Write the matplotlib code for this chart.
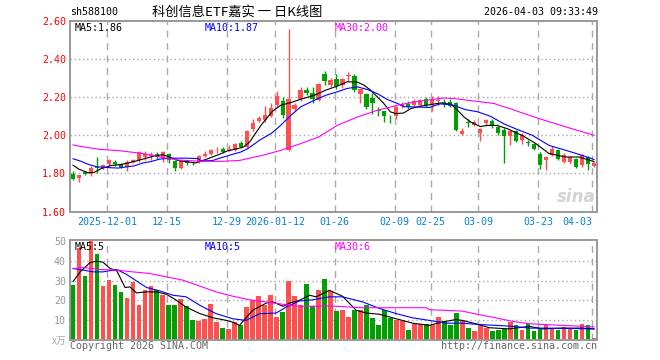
import matplotlib
matplotlib.use('Agg')
import matplotlib.pyplot as plt
import numpy as np

# ---- data (bar index 0 = 2025-11-21) ----
opens = [1.795,1.775,1.806,1.798,1.834,1.830,1.848,1.861,1.850,1.834,
         1.860,1.868,1.888,1.893,1.900,1.884,1.900,1.864,1.830,1.866,
         1.862,1.862,1.890,1.900,1.915,1.930,1.925,1.922,1.960,1.940,
         2.035,2.075,2.082,2.102,2.160,2.178,1.922,2.140,2.190,2.236,
         2.222,2.185,2.320,2.262,2.297,2.262,2.310,2.310,2.216,2.215,
         2.197,2.133,2.125,2.085,2.100,2.155,2.163,2.160,2.160,2.188,
         2.158,2.180,2.172,2.176,2.167,2.005,2.066,2.055,2.012,2.062,
         2.074,2.044,2.030,1.997,2.020,1.974,1.962,1.953,1.904,1.868,
         1.895,1.925,1.860,1.860,1.874,1.842,1.886,1.838]
highs = [1.812,1.792,1.815,1.838,1.886,1.850,1.876,1.868,1.855,1.868,
         1.878,1.920,1.915,1.910,1.912,1.920,1.905,1.870,1.870,1.872,
         1.866,1.897,1.920,1.928,1.940,1.940,1.950,1.960,1.968,2.030,
         2.088,2.100,2.155,2.172,2.230,2.200,2.560,2.172,2.255,2.255,
         2.255,2.275,2.337,2.300,2.320,2.300,2.330,2.320,2.245,2.220,
         2.220,2.150,2.130,2.105,2.155,2.175,2.180,2.190,2.190,2.200,
         2.205,2.205,2.190,2.190,2.175,2.040,2.088,2.080,2.040,2.088,
         2.088,2.050,2.040,2.030,2.030,2.012,1.977,1.960,1.910,1.890,
         1.942,1.930,1.907,1.890,1.880,1.900,1.892,1.860]
lows = [1.763,1.755,1.790,1.786,1.800,1.822,1.840,1.840,1.830,1.810,
        1.856,1.862,1.870,1.868,1.878,1.860,1.855,1.815,1.822,1.845,
        1.845,1.855,1.885,1.895,1.905,1.905,1.915,1.915,1.935,1.935,
        2.020,2.068,2.070,2.095,2.150,2.090,1.915,2.127,2.180,2.210,
        2.167,2.180,2.263,2.255,2.245,2.250,2.285,2.228,2.167,2.140,
        2.114,2.100,2.070,2.062,2.083,2.145,2.140,2.155,2.150,2.150,
        2.128,2.158,2.150,2.148,2.020,2.000,2.043,2.047,1.970,2.048,
        2.040,2.000,1.854,1.947,1.965,1.956,1.942,1.925,1.825,1.816,
        1.890,1.870,1.855,1.850,1.830,1.835,1.820,1.832]
closes = [1.772,1.789,1.797,1.828,1.826,1.846,1.870,1.848,1.836,1.862,
          1.872,1.910,1.900,1.896,1.887,1.912,1.869,1.828,1.867,1.855,
          1.852,1.893,1.900,1.924,1.920,1.914,1.930,1.955,1.940,2.025,
          2.065,2.090,2.108,2.143,2.205,2.106,2.188,2.160,2.236,2.220,
          2.190,2.270,2.283,2.289,2.258,2.295,2.314,2.238,2.242,2.150,
          2.170,2.130,2.103,2.083,2.149,2.165,2.148,2.180,2.183,2.160,
          2.184,2.183,2.170,2.153,2.026,2.022,2.064,2.071,2.031,2.079,
          2.048,2.013,1.996,2.022,1.970,2.002,1.960,1.930,1.843,1.886,
          1.930,1.878,1.895,1.885,1.834,1.895,1.848,1.855]
volume = [27.7,46.6,32.2,52.0,43.4,27.2,30.2,27.7,24.1,21.2,
          29.2,17.5,25.1,27.2,25.5,22.6,17.5,17.5,20.9,17.0,
          9.9,9.4,10.4,18.0,8.9,6.3,5.8,8.9,7.4,16.5,
          20.1,22.1,17.5,22.6,11.4,14.0,29.7,22.1,17.5,28.2,
          17.0,25.1,30.7,24.8,14.5,15.0,11.6,15.0,15.0,17.5,
          11.1,7.4,15.0,11.1,9.9,9.4,5.3,7.9,8.2,7.9,
          7.4,11.6,9.6,7.4,13.5,9.9,6.0,4.3,8.2,6.2,
          4.3,4.8,5.6,9.1,7.4,5.3,7.9,4.3,6.2,7.4,
          6.2,5.3,6.4,5.6,4.8,7.9,7.4,0.8]

# moving averages: (bar index, value)
ma5 = [(0,1.843),(1,1.822),(2.5,1.804),(3.5,1.805),(4.7,1.825),(6.4,1.842),(8,1.846),
       (10.3,1.863),(12,1.878),(13.6,1.892),(15,1.898),(15.8,1.890),(17.5,1.868),
       (19.2,1.860),(20.5,1.855),(22.5,1.877),(24.2,1.897),(25.8,1.918),(27.5,1.930),
       (28.5,1.939),(29.5,1.965),(31.4,2.053),(33.3,2.126),(34.7,2.158),(36.4,2.172),
       (38,2.189),(40.3,2.21),(42.2,2.237),(44.2,2.259),(45.8,2.281),(47.5,2.279),
       (48.6,2.263),(49.7,2.237),(50.8,2.202),(51.9,2.167),(53,2.123),(53.9,2.114),
       (55.2,2.117),(56.4,2.14),(58,2.153),(59.5,2.160),(61.4,2.17),(63.1,2.163),
       (64.2,2.132),(65.3,2.096),(66.4,2.07),(68,2.046),(69.2,2.052),(70.8,2.052),
       (72.5,2.035),(74.5,2.006),(75,2.0),(77.3,1.956),(79.5,1.904),(82.3,1.886),
       (84.5,1.886),(87,1.862)]
ma10 = [(0,1.877),(1.4,1.863),(2.3,1.850),(3.9,1.835),(6.2,1.830),(7.5,1.828),(8.9,1.834),
        (10.3,1.840),(11.7,1.855),(13,1.862),(14.5,1.875),(16.2,1.880),(18.9,1.880),
        (20.8,1.878),(21.4,1.865),(23.4,1.868),(24.2,1.877),(25.6,1.890),(26.4,1.898),
        (28,1.912),(29.2,1.930),(31.2,1.975),(33.3,2.014),(34.7,2.053),(36.4,2.105),
        (38,2.149),(40.3,2.184),(42.2,2.21),(44.2,2.229),(45.8,2.246),(47.5,2.254),
        (49.2,2.24),(50.8,2.219),(52.5,2.188),(54.2,2.167),(55.3,2.15),(57,2.149),
        (59.5,2.146),(61.3,2.165),(63.3,2.160),(65.5,2.135),(67.5,2.124),(69.7,2.100),
        (71.9,2.061),(74,2.033),(76.7,2.0),(79.5,1.947),(82.3,1.921),(85,1.895),(87,1.873)]
ma30 = [(0,1.950),(1.2,1.942),(4.5,1.926),(7.8,1.919),(11.2,1.906),(13.4,1.895),(14.5,1.886),
        (16.2,1.877),(17.8,1.870),(21.2,1.864),(24.5,1.863),(27.8,1.868),(29.5,1.880),
        (31.4,1.893),(34.7,1.921),(38,1.956),(41,1.991),(44.2,2.053),(47.5,2.096),
        (50.8,2.131),(54.2,2.158),(57,2.175),(59.5,2.186),(62,2.196),(63.6,2.193),
        (67.5,2.178),(70.3,2.167),(72.3,2.146),(73,2.140),(74.5,2.123),(77.8,2.088),
        (82.3,2.044),(87,2.0)]
vma5 = [(0,29.5),(1.2,34.4),(2.8,39),(3.9,39.8),(5,39.3),(6.2,36.1),(7.3,35),(8.7,26.5),
        (9.5,26.8),(10.6,23.8),(12.3,24.3),(13.9,24.3),(15.6,23.1),(17.3,20),(18.9,16.6),
        (21.2,13.3),(23.4,11.2),(25.6,9.9),(26.7,9.0),(27.8,7.4),(30,15),(32.3,18.7),
        (33.4,19.2),(35.1,17),(36.2,18.7),(37.8,20),(39.5,22.6),(40.6,21.8),(42.8,25.1),
        (45,22.1),(46.2,18.4),(47.3,15),(49,13.6),(51.2,13),(54,10.7),(56.7,8.5),
        (59.5,7.4),(61.7,9.1),(63.9,10.3),(65,9.9),(67.3,8.2),(69.5,6.2),(72.8,5.6),
        (76.2,6.9),(78.4,5.6),(81.7,6.0),(85,6.0),(87,5.6)]
vma10 = [(0,36.1),(1.7,35.3),(3.4,34.4),(5,34.4),(7.3,35.6),(8.9,33.2),(10.6,29.8),
         (12.3,26.5),(14.5,24.8),(16.7,22.6),(18.9,21.8),(21.2,17.5),(23.9,13.3),
         (26.7,10.7),(28.9,9.9),(31.2,13.3),(33.9,13.6),(35.6,16.6),(37.8,19.7),(40,20.3),
         (42.8,21.8),(45,21.8),(48.4,19.2),(51.2,15.9),(54,13.3),(56.7,11.2),(59.5,9.9),
         (62.3,8.5),(65,8.5),(67.8,7.8),(70.6,7.4),(73.4,6.9),(76.2,6.0),(79,6.0),(87,5.6)]
vma30 = [(0,36.1),(1.7,36.6),(4.5,35.6),(7.3,35.3),(10,34.4),(12.8,33.6),(15.6,31.9),
         (18.4,30.2),(21.2,27.2),(23.9,24.3),(26.7,22.1),(29.5,20.3),(32.3,19.2),(35.1,18),
         (37.8,17),(42.8,17.2),(48.4,16.3),(54,16.3),(59,16.3),(59.5,15.3),(65,14.6),
         (67.8,12.8),(70.6,11.2),(73.4,9.4),(76.2,8.2),(81.7,7.4),(87,6.6)]

tick_idx = [6,16,26,34,44,54,60,68,78,87]
tick_lab = ['2025-12-01','12-15','12-29','2026-01-12','01-26','02-09','02-25','03-09','03-23','04-03']
price_ticks = [1.60,1.80,2.00,2.20,2.40,2.60]
vol_ticks = [10,20,30,40,50]

RED = '#ff5050'
GREEN = '#00a000'
GRID = '#aaaaaa'
MONO = 'DejaVu Sans Mono'

W, H = 660, 360
fig = plt.figure(figsize=(W/100, H/100), dpi=100)

def box(l, t, r, b):
    return [l/W, 1-b/H, (r-l)/W, (b-t)/H]

ax = fig.add_axes(box(70, 21, 597, 211.5))
axv = fig.add_axes(box(70, 240, 597, 340))

n = len(closes)
x = np.arange(n)
o = np.array(opens); c = np.array(closes)
up = c >= o
cols = [RED if u else GREEN for u in up]

gx = [t - 0.3 for t in tick_idx]

for a in (ax, axv):
    a.set_xlim(-0.5, n - 0.5)
    for g in gx:
        a.axvline(g, color=GRID, lw=1, ls=(0, (5, 4)), zorder=0)
    for s in a.spines.values():
        s.set_color('#999999')
        s.set_linewidth(1.4)
    a.tick_params(length=0)

# candles
ax.vlines(x, lows, highs, colors=cols, lw=1, zorder=2)
bot = np.minimum(o, c)
hgt = np.maximum(np.abs(c - o), 0.004)
ax.bar(x, hgt, bottom=bot, width=0.7, color=cols, zorder=3, linewidth=0)

for data, col in ((ma5, 'black'), (ma10, '#0000ff'), (ma30, '#ff00ff')):
    ax.plot([p[0] for p in data], [p[1] for p in data], color=col, lw=0.8, zorder=4)

ax.set_ylim(1.60, 2.60)
for yv in price_ticks[1:-1]:
    ax.axhline(yv, color=GRID, lw=1, ls=(0, (1, 2)), zorder=0)
ax.set_yticks(price_ticks)
ax.set_yticklabels(['%.2f' % v for v in price_ticks], color='red', fontsize=7.2, family=MONO)
ax.set_xticks(gx)
ax.set_xticklabels(tick_lab, color='#0a82d2', fontsize=7.2, family=MONO)
ax.tick_params(axis='y', pad=3)
ax.tick_params(axis='x', pad=4)
ax.get_xticklabels()[-1].set_horizontalalignment('right')

ty = 1 - 2.0/190.5
ax.text(0.009, ty, 'MA5:1.86', transform=ax.transAxes, color='black', fontsize=7.2,
        family=MONO, va='top')
ax.text(0.256, ty, 'MA10:1.87', transform=ax.transAxes, color='#0000ff', fontsize=7.2,
        family=MONO, va='top')
ax.text(0.503, ty, 'MA30:2.00', transform=ax.transAxes, color='#ff00ff', fontsize=7.2,
        family=MONO, va='top')
ax.text(0.998, 0.03, 'sina', transform=ax.transAxes, color='#d4d4d4', fontsize=12,
        fontweight='bold', style='italic', ha='right', va='bottom', zorder=1)

# volume
axv.bar(x, volume, width=0.78, color=cols, linewidth=0, zorder=2)
for data, col in ((vma5, 'black'), (vma10, '#0000ff'), (vma30, '#ff00ff')):
    axv.plot([p[0] for p in data], [p[1] for p in data], color=col, lw=0.8, zorder=4)
axv.set_ylim(0, 50.5)
for yv in vol_ticks[:-1]:
    axv.axhline(yv, color=GRID, lw=1, ls=(0, (1, 2)), zorder=0)
axv.set_yticks(vol_ticks)
axv.set_yticklabels([str(v) for v in vol_ticks], color='#999999', fontsize=7.2, family=MONO)
axv.set_xticks([])
axv.tick_params(axis='y', pad=3)
vy = 0.98
axv.text(0.009, vy, 'MA5:5', transform=axv.transAxes, color='black', fontsize=7.2,
         family=MONO, va='top', zorder=5)
axv.text(0.256, vy, 'MA10:5', transform=axv.transAxes, color='#0000ff', fontsize=7.2,
         family=MONO, va='top', zorder=5)
axv.text(0.503, vy, 'MA30:6', transform=axv.transAxes, color='#ff00ff', fontsize=7.2,
         family=MONO, va='top', zorder=5)

# header and footer
cjk = ['Noto Sans CJK SC', 'DejaVu Sans']
fig.text(70/W, 1-12/H, 'sh588100', fontsize=7.2, family=MONO, va='center', color='black')
fig.text(152/W, 1-12/H, '科创信息ETF嘉实 一 日K线图', fontsize=9.5, family=cjk,
         va='center', color='black')
fig.text(598/W, 1-12/H, '2026-04-03 09:33:49', fontsize=7.2, family=MONO, va='center',
         ha='right', color='black')
fig.text(66/W, 1-341/H, 'x万', fontsize=7, family=cjk, va='center', ha='right',
         color='#aaaaaa', style='italic')
fig.text(70/W, 1-346/H, 'Copyright 2026 SINA.COM', fontsize=7.2, family=MONO,
         va='center', color='#666666')
fig.text(597/W, 1-346/H, 'http://finance.sina.com.cn', fontsize=7.2, family=MONO,
         va='center', ha='right', color='#666666')

fig.savefig('out.png', dpi=100, facecolor='white')
